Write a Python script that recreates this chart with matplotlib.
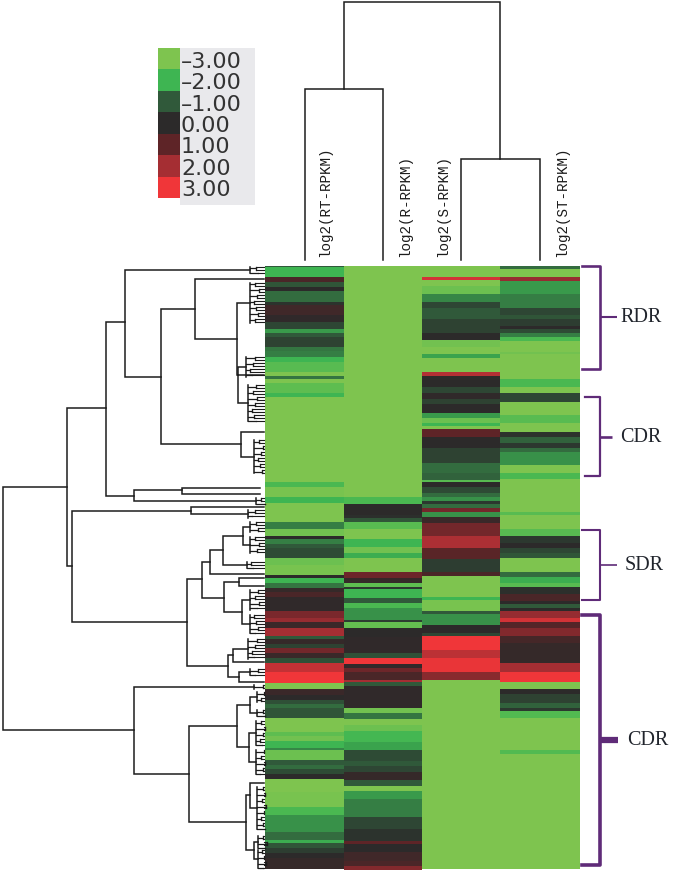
#
# Import section
#
import numpy as np
import matplotlib
matplotlib.use('Agg')
import matplotlib.pyplot as plt
from matplotlib.colors import LinearSegmentedColormap

#
# Heatmap values, one list of values and one of row lengths per sample
# (lengths in thirds of a pixel)
#
samples = ['log2(RT-RPKM)', 'log2(R-RPKM)', 'log2(S-RPKM)', 'log2(ST-RPKM)']

rt_val = [-1, -2, .6, -.9, 0, -1.2, -.2, .4, .1, -.6, -1.7, -1, -.5, -1.3, -1.4, -2, -2.4, -3, -1.3, -3,
          -2.5, -2, -3, -2.2, -2.9, -2, -3, -1.4, -2.8, 0, -1.4, -1, -.7, -2.7, -2.9, 0, -2, -1.3, .2, .6,
          .1, 1.4, 1.8, .3, 2, -1, .2, -.5, 1.3, .3, -.8, 2.4, 3, -3, .3, 0, -.8, -1.2, -.9, -3,
          -2.5, -2.8, -2, -1.5, -2.7, -1, -1.2, -.7, 0, -3, -2.9, -2.2, -1.6, -1.6, -1.2, -1.9, -.9, -.4, 0, .2]
rt_len = [4, 28, 16, 14, 13, 32, 10, 30, 20, 22, 13, 12, 28, 12, 20, 13, 30, 13, 10, 12,
          30, 10, 255, 17, 30, 18, 57, 19, 22, 10, 14, 13, 30, 20, 30, 10, 15, 13, 12, 17,
          40, 23, 12, 18, 23, 9, 15, 13, 15, 13, 17, 25, 33, 20, 17, 15, 13, 12, 30, 40,
          14, 14, 22, 5, 30, 15, 12, 16, 14, 38, 45, 25, 15, 35, 25, 10, 15, 15, 15, 32]

r_val = [-3, -2.2, 0, -.1, -.9, -2.4, -3, -2, -2.8, -1.9, -3, -3, 1.2, .2, -2.5, -.3, -2, -1, -2.2, -1.6,
         -.4, -2.6, 0, .1, -.8, 3, .1, 1.2, .6, 2, -1, .1, -2.8, -1.3, -3, -2.7, -2.1, -1.8, -.7, -1,
         -.6, .2, -1, -3, -1.7, -1.4, -1.4, -.6, -.2, 1, 0, .4, .6, 1.5]
r_len = [694, 20, 33, 10, 12, 19, 32, 24, 18, 15, 20, 22, 18, 13, 12, 8, 27, 15, 15, 35,
         7, 18, 25, 50, 13, 19, 13, 10, 25, 7, 10, 66, 17, 17, 18, 17, 35, 22, 33, 15,
         20, 22, 18, 15, 25, 20, 35, 35, 35, 10, 25, 25, 15, 12]

s_val = [-3, 2.6, -3, -2.7, -1.5, -.6, -1, -.5, 0, -2.8, -3, -1.8, -3, 2.2, 0, -.6, .1, -.5, 0, -1.7,
         -2.7, -2, -3, 1, 0, -.5, -1.2, -1.1, -2.4, 0, -.7, -1.2, -1.6, -.3, -1.2, 1.3, -1.6, .3, 1.3, 2.1,
         .9, -.4, -.4, .6, -3, -2, -2.9, -1, -1.6, 0, -.6, 3, 2.3, 2.9, 1.6, -3]
s_len = [32, 10, 18, 24, 23, 20, 33, 40, 22, 22, 21, 10, 42, 13, 34, 18, 18, 14, 26, 17,
         13, 10, 10, 22, 35, 45, 30, 20, 7, 15, 16, 14, 10, 10, 13, 12, 15, 18, 38, 37,
         32, 18, 20, 13, 64, 8, 33, 10, 32, 25, 8, 42, 25, 40, 25, 567]

st_val = [-1.2, -3, 1.8, -1.7, -1.4, -.6, -.9, -.4, 0, -.7, -1.4, -2.2, -3, -2.8, -3, -2.2, -3, -.6, -3, -2.4,
          -3, -.2, -1.1, -.3, -1.2, -1.6, -3, -2.2, -3, -2.4, -3, -2.4, -.3, 0, -.6, -.9, -3, -3, -1.2, -1.9,
          -2.4, -.1, .6, 0, -1, 0, 1.8, 2.6, .8, 1.5, .5, .2, .2, 2, 3, -3, 0, -.5, -1.1, -.3,
          -2.3, -3, -2.3, -3]
st_len = [8, 24, 12, 41, 40, 22, 13, 20, 10, 10, 14, 11, 32, 8, 75, 24, 18, 25, 40, 23,
          28, 14, 20, 15, 10, 40, 25, 18, 97, 10, 41, 22, 22, 15, 15, 15, 20, 22, 13, 18,
          12, 23, 20, 9, 13, 8, 22, 12, 18, 23, 22, 20, 40, 25, 32, 21, 15, 27, 15, 8,
          22, 95, 13, 344]

#
# Colour key
#
key_levels = [-3, -2, -1, 0, 1, 2, 3]
key_labels = ['–3.00', '–2.00', '–1.00', '0.00', '1.00', '2.00', '3.00']
key_colors = ['#7ec44f', '#3db552', '#30593a', '#2b2a2a', '#5e2427', '#a42e33', '#f03639']

#
# Left dendrogram links: merge distance, the two branch rows, where each branch ends
#
link_d = [2.5, 67, 106, 125, 161, 195, 237, 238, 241, 134, 182, 72, 191, 187, 202, 210, 223, 243,
          224, 239, 242, 228, 233, 239, 134, 189, 237, 250, 249, 246, 250, 254]
link_top = [487, 408, 322, 270, 309, 279, 303, 367, 432, 490, 488, 511, 507, 579, 562, 550, 536, 527,
            582, 578, 600, 655, 649, 672, 687, 726, 705, 697, 733, 795, 783, 842]
link_bot = [730, 566, 496, 377, 444, 339, 375, 403, 457, 501, 494, 622, 514, 666, 598, 574, 565, 545,
            612, 586, 624, 677, 662, 682, 774, 822, 747, 713, 762, 850, 808, 859]
link_top_end = [67, 106, 125, 250, 195, 264, 250, 246, 264, 182, 260, 191, 264, 202, 210, 223, 243, 250,
                239, 264, 250, 233, 248, 250, 254, 237, 250, 257, 256, 250, 264, 258]
link_bot_end = [134, 72, 134, 161, 241, 237, 238, 248, 254, 256, 260, 187, 248, 228, 224, 264, 247, 250,
                242, 264, 250, 239, 264, 264, 189, 246, 249, 257, 256, 254, 257, 258]

# terminal clusters at the edge of the heatmap
clade_d = [250, 250, 246, 248, 254, 256, 248, 250, 250, 247, 250, 250, 248, 250, 254, 257, 257,
           256, 256, 257, 258, 258]
clade_top = [267, 283, 357, 385, 440, 498, 510, 522, 537, 562, 590, 615, 639, 669, 685, 692, 710,
             721, 750, 787, 836, 850]
clade_bot = [273, 323, 377, 421, 473, 504, 518, 532, 553, 568, 610, 633, 659, 675, 689, 702, 716,
             745, 774, 829, 848, 868]
twig_offset = [6, 8, 5, 9, 7, 4]

#
# Top dendrogram
#
col_edges = [265, 344, 421.5, 499.5, 580]
top_height = [2, 89, 159]
top_left = [344, 304.5, 461]
top_right = [500, 383, 540]
top_left_end = [89, 260, 260]
top_right_end = [159, 260, 260]
label_x = [325, 405, 443, 562]

#
# Brackets on the right
#
br_names = ['RDR', 'CDR', 'SDR', 'CDR']
br_top = [266, 397, 530, 615]
br_bot = [369, 476, 600, 865]
br_mid = [317, 437, 565, 740]
br_start = [582, 585, 582, 582]
br_tip = [617, 612, 617, 618]
br_text_x = [620, 620, 625, 627]
br_lw = [1.9, 1.6, 1.5, 2.6]
br_tip_lw = [1.5, 1.9, 1.2, 4.5]

line_col = '#1c1c1c'
purple = '#5f2b78'

fig = plt.figure(figsize=(6.75, 8.71), dpi=100, facecolor='w')
ax = fig.add_axes([0, 0, 1, 1])
ax.set_xlim(0, 675)
ax.set_ylim(871, 0)
ax.axis('off')

cmap = LinearSegmentedColormap.from_list('rg', list(zip((np.array(key_levels) + 3) / 6., key_colors)))

#
# Heatmap
#
columns = [(rt_val, rt_len), (r_val, r_len), (s_val, s_len), (st_val, st_len)]
for i, (val, length) in enumerate(columns):
    y = 266 + np.concatenate([[0], np.cumsum(length)]) / 3.
    ax.pcolormesh(col_edges[i:i + 2], y, np.array(val)[:, None], cmap=cmap, vmin=-3, vmax=3,
                  shading='flat', antialiased=False)

#
# Left dendrogram
#
for d, a, b, ea, eb in zip(link_d, link_top, link_bot, link_top_end, link_bot_end):
    ax.plot([ea, d, d, eb], [a, a, b, b], color=line_col, lw=1.1, solid_joinstyle='miter')

k = 0
for d, a, b in zip(clade_d, clade_top, clade_bot):
    ax.plot([d, d], [a, b], color=line_col, lw=1.1)
    rows = np.arange(a, b + 0.1, 3.)
    for j in range(0, len(rows), 2):
        pair = rows[j:j + 2]
        fork = d + twig_offset[k % len(twig_offset)]
        k = k + 1
        ax.plot([d, fork], [pair.mean(), pair.mean()], color=line_col, lw=0.9)
        ax.plot([fork, fork], [pair[0], pair[-1]], color=line_col, lw=0.9)
        for r in pair:
            ax.plot([fork, 264], [r, r], color=line_col, lw=0.8)

ax.plot([238, 264], [375, 375], color=line_col, lw=1.1)

#
# Top dendrogram and sample names
#
for h, l, r, el, er in zip(top_height, top_left, top_right, top_left_end, top_right_end):
    ax.plot([l, l, r, r], [el, h, h, er], color=line_col, lw=1.1, solid_joinstyle='miter')

for name, x in zip(samples, label_x):
    ax.text(x, 257, name, rotation=90, ha='center', va='bottom', family='Liberation Mono',
            fontsize=10.3, color='#1c1c1c')

#
# Colour key
#
ax.fill_between([180, 255], 48, 205, color='#e9e9ec', lw=0)
key_y = 48 + np.arange(len(key_levels) + 1) * 150 / 7.
ax.pcolormesh([158, 180], key_y, np.array(key_levels)[:, None], cmap=cmap, vmin=-3, vmax=3, shading='flat')
for i, lab in enumerate(key_labels):
    ax.text(181, (key_y[i] + key_y[i + 1]) / 2. + 3, lab, ha='left', va='center', fontsize=16,
            family='DejaVu Sans', color='#333333')

#
# Brackets
#
for name, t, b, m, s, tip, tx, w, tw in zip(br_names, br_top, br_bot, br_mid, br_start, br_tip, br_text_x,
                                            br_lw, br_tip_lw):
    ax.plot([s, 600, 600, s], [t, t, b, b], color=purple, lw=w, solid_joinstyle='round')
    ax.plot([600, tip], [m, m], color=purple, lw=tw, solid_capstyle='butt')
    ax.text(tx, m, name, ha='left', va='center', family='Liberation Serif', fontsize=14.5, color='#20242c')

fig.savefig('out.png', dpi=100, facecolor='w')
